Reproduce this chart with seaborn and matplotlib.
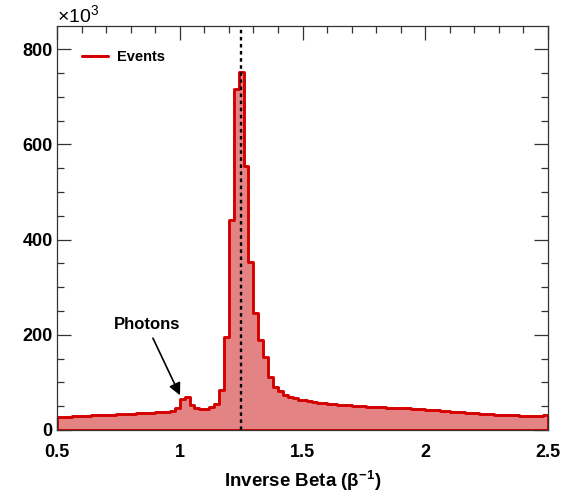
import numpy as np
import pandas as pd
import seaborn as sns
import matplotlib
matplotlib.use("Agg")
import matplotlib.pyplot as plt
from matplotlib.lines import Line2D
from matplotlib.ticker import MultipleLocator

# ---- data (counts in units of 10^3), bins of width 0.02 from 0.5 to 2.5 ----
bin_lo, bin_hi, bin_w = 0.5, 2.5, 0.02
counts = [
    27, 27.5, 28, 28.5, 29, 29.5, 30, 30.5, 31, 31.5,          # 0.50-0.70
    32, 32.5, 33, 33.5, 34, 34.5, 35, 35.5, 36, 36.5,          # 0.70-0.90
    37, 37.5, 38.5, 40, 46, 65, 70, 53, 47, 45,                # 0.90-1.10
    45, 48, 55, 84, 195, 441, 716, 753, 555, 352,              # 1.10-1.30
    246, 189, 154, 112, 91, 81, 74, 70, 67, 64,                # 1.30-1.50
    62, 60, 58.5, 57, 56, 55, 54, 53, 52, 51.5,                # 1.50-1.70
    51, 50, 49.5, 49, 48.5, 48, 47.5, 47, 46.5, 46,            # 1.70-1.90
    46, 45.5, 45, 44, 43.5, 43, 42, 41, 40, 39,                # 1.90-2.10
    38, 37.5, 37, 36, 35.5, 35, 34, 33.5, 33, 32.5,            # 2.10-2.30
    32, 31.5, 31, 30.5, 30, 30, 29.5, 29.5, 29.5, 31,          # 2.30-2.50
]
x_ticks = [0.5, 1, 1.5, 2, 2.5]
x_tick_labels = ["0.5", "1", "1.5", "2", "2.5"]
y_ticks = [0, 200, 400, 600, 800]
y_tick_labels = ["0", "200", "400", "600", "800"]
expected_beta_inv = 1.25
legend_label = "Events"
annot_label = "Photons"
annot_tip = (1.001, 73)
annot_text_pos = (0.865, 221)

edges = [round(bin_lo + i * bin_w, 4) for i in range(len(counts) + 1)]
centers = [(edges[i] + edges[i + 1]) / 2 for i in range(len(counts))]
df = pd.DataFrame({"beta_inv": centers, "n": counts})

# ---- style ----
sns.set_style("ticks")
plt.rcParams["font.family"] = ["Liberation Sans", "DejaVu Sans"]
plt.rcParams["mathtext.fontset"] = "custom"
plt.rcParams["mathtext.rm"] = "Liberation Sans"
plt.rcParams["mathtext.bf"] = "Liberation Sans:bold"
plt.rcParams["mathtext.it"] = "Liberation Sans:italic"
for key in ["text.color", "axes.labelcolor", "xtick.color", "ytick.color", "axes.edgecolor"]:
    plt.rcParams[key] = "black"

fill_color = "#e38383"
line_color = "#d40000"

fig = plt.figure(figsize=(5.61, 4.98), dpi=100)
ax = fig.add_axes([57 / 561, 1 - 430 / 498, 491 / 561, 404 / 498])

sns.histplot(data=df, x="beta_inv", weights="n", bins=edges, element="step",
             fill=True, color=fill_color, alpha=1, edgecolor=line_color,
             linewidth=2.1, ax=ax)

ax.axvline(expected_beta_inv, color="black", linestyle=(0, (1.5, 1.5)), lw=1.7, zorder=5)

ax.set_xlim(bin_lo, bin_hi)
ax.set_ylim(0, 849)
ax.set_xticks(x_ticks)
ax.set_xticklabels(x_tick_labels)
ax.set_yticks(y_ticks)
ax.set_yticklabels(y_tick_labels)
ax.xaxis.set_minor_locator(MultipleLocator(0.1))
ax.yaxis.set_minor_locator(MultipleLocator(50))
ax.tick_params(which="both", direction="in", top=True, right=True, color="#333333", width=0.9)
ax.tick_params(which="major", length=10)
ax.tick_params(which="minor", length=5)
ax.tick_params(axis="x", which="major", pad=10, labelsize=13, labelcolor="black")
ax.tick_params(axis="y", which="major", pad=3, labelsize=13, labelcolor="black")
for lab in ax.get_xticklabels() + ax.get_yticklabels():
    lab.set_fontweight("bold")
for sp in ax.spines.values():
    sp.set_visible(True)
    sp.set_color("#333333")
    sp.set_linewidth(0.9)

ax.set_ylabel("")
ax.set_xlabel(r"Inverse Beta (β$^{\mathbf{-1}}$)", fontsize=13.5, fontweight="bold",
              labelpad=6, color="black")

ax.text(0.0, 1.0, r"$\times10^{3}$", transform=ax.transAxes, ha="left", va="bottom",
        fontsize=14, color="black")

handle = Line2D([], [], color=line_color, lw=2.2)
ax.legend([handle], [legend_label], loc="center left", bbox_to_anchor=(0.05, 0.923),
          frameon=False, prop={"weight": "bold", "size": 10.5},
          handlelength=1.8, handletextpad=0.6, borderpad=0, borderaxespad=0)

ax.annotate(annot_label, xy=annot_tip, xytext=annot_text_pos, ha="center", va="center",
            fontsize=12, fontweight="bold", color="black",
            arrowprops=dict(arrowstyle="-|>", color="black", lw=1.2, mutation_scale=18,
                            shrinkA=2, shrinkB=0))

fig.savefig("out.png", dpi=100)
